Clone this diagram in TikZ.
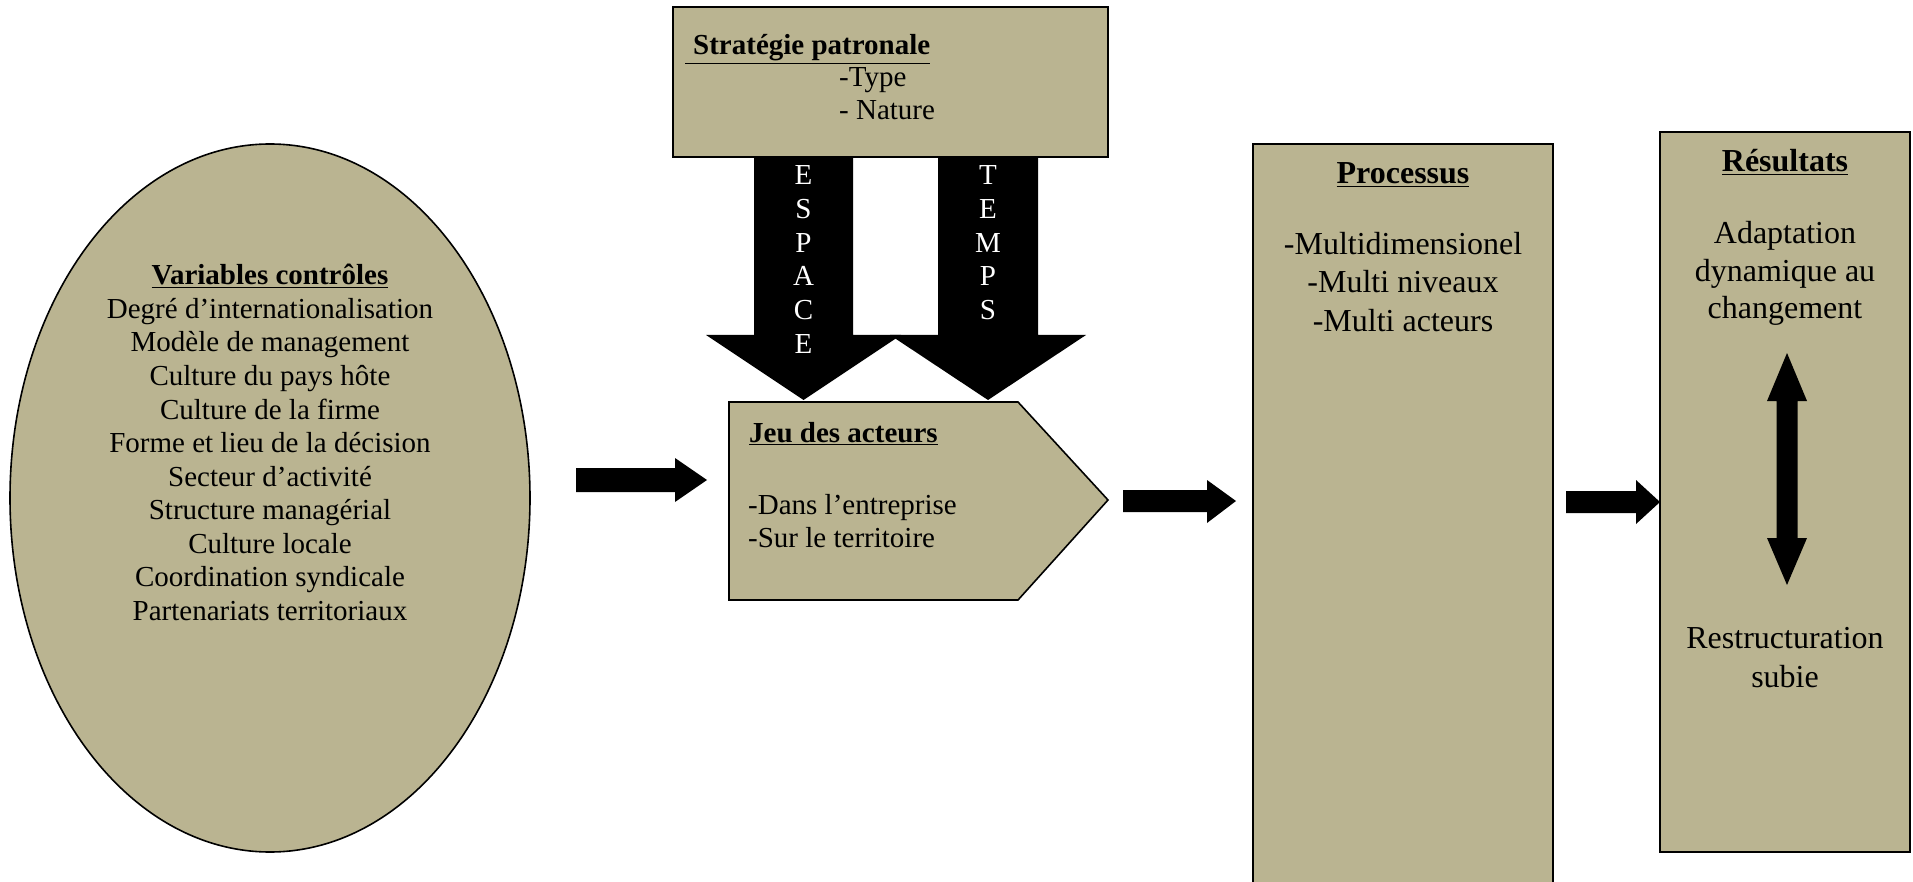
\documentclass[tikz,border=0pt]{standalone}
\usepackage{fontspec}
\setmainfont{Liberation Serif}
\usetikzlibrary{shapes.geometric}
\definecolor{khaki}{RGB}{186,180,145}
\tikzset{
  boxstyle/.style={draw=black, fill=khaki, line width=1.6pt},
  rectbox/.style={boxstyle, rectangle, inner sep=0pt},
  bigarrow/.style={fill=black, draw=none},
  tA/.style={font=\fontsize{29}{34}\selectfont, inner sep=0pt},
  tB/.style={font=\fontsize{32}{38}\selectfont, inner sep=0pt},
  tW/.style={font=\fontsize{29}{34}\selectfont, inner sep=0pt, text=white},
}
\begin{document}
\begin{tikzpicture}[x=1pt, y=-1pt]
\useasboundingbox (0,0) rectangle (1913,882);

% Ellipse: variables controles
\node[boxstyle, ellipse, minimum width=520pt, minimum height=708pt, inner sep=0pt] (vc) at (270,498) {};
\foreach [count=\i] \t in {\textbf{\underline{Variables contrôles}},
  Degré d’internationalisation, Modèle de management, Culture du pays hôte,
  Culture de la firme, Forme et lieu de la décision, Secteur d’activité,
  Structure managérial, Culture locale, Coordination syndicale,
  Partenariats territoriaux}
  \node[tA, anchor=base] (vcl\i) at (270,{285+33.5*(\i-1)}) {\t};

% Strategie patronale
\node[rectbox, minimum width=435pt, minimum height=150pt] (strat) at (890.5,82) {};
\node[tA, anchor=base west] (strat1) at (685,55) {\textbf{\underline{\hspace{8pt}Stratégie patronale}}};
\node[tA, anchor=base west] (strat2) at (839,87) {-Type};
\node[tA, anchor=base west] (strat3) at (839,120) {- Nature};

% ESPACE arrow
\fill[bigarrow] (754,157) -- (853,157) -- (853,335) -- (901,335) -- (803.5,400) -- (706,335) -- (754,335) -- cycle;
% TEMPS arrow
\fill[bigarrow] (938,157) -- (1038,157) -- (1038,335) -- (1086,335) -- (988,400) -- (890,335) -- (938,335) -- cycle;
\foreach [count=\i] \l in {E,S,P,A,C,E}
  \node[tW, anchor=base] (esp\i) at (803.5,{185+33.6*(\i-1)}) {\l};
\foreach [count=\i] \l in {T,E,M,P,S}
  \node[tW, anchor=base] (tem\i) at (988,{185+33.6*(\i-1)}) {\l};

% Jeu des acteurs
\draw[boxstyle] (729,402) -- (1018,402) -- (1108,500) -- (1018,600) -- (729,600) -- cycle;
\coordinate (jeu) at (900,500);
\node[tA, anchor=base west] (jeu1) at (749,442) {\textbf{\underline{Jeu des acteurs}}};
\node[tA, anchor=base west] (jeu2) at (748,514) {-Dans l’entreprise};
\node[tA, anchor=base west] (jeu3) at (748,547) {-Sur le territoire};

% Processus
\node[rectbox, minimum width=300pt, minimum height=760pt] (proc) at (1403,524) {};
\node[tB, anchor=base] (proc1) at (1403,184) {\textbf{\underline{Processus}}};
\node[tB, anchor=base] (proc2) at (1403,255) {-Multidimensionel};
\node[tB, anchor=base] (proc3) at (1403,293) {-Multi niveaux};
\node[tB, anchor=base] (proc4) at (1403,332) {-Multi acteurs};

% Resultats
\node[rectbox, minimum width=250pt, minimum height=720pt] (res) at (1785,492) {};
\node[tB, anchor=base] (res1) at (1785,172) {\textbf{\underline{Résultats}}};
\node[tB, anchor=base] (res2) at (1785,244) {Adaptation};
\node[tB, anchor=base] (res3) at (1785,282) {dynamique au};
\node[tB, anchor=base] (res4) at (1785,319) {changement};
\node[tB, anchor=base] (res5) at (1785,648) {Restructuration};
\node[tB, anchor=base] (res6) at (1785,687) {subie};

% Horizontal arrows
\fill[bigarrow] (576,468) -- (675,468) -- (675,458) -- (707,480) -- (675,502) -- (675,492) -- (576,492) -- cycle;
\fill[bigarrow] (1123,490) -- (1207,490) -- (1207,480) -- (1236,501) -- (1207,523) -- (1207,512) -- (1123,512) -- cycle;
\fill[bigarrow] (1566,491) -- (1636,491) -- (1636,480) -- (1660,502) -- (1636,524) -- (1636,513) -- (1566,513) -- cycle;

% Double arrow in Resultats
\fill[bigarrow] (1787,353) -- (1807,401) -- (1797.5,401) -- (1797.5,538) -- (1807,538) -- (1787,585) -- (1767,538) -- (1776.5,538) -- (1776.5,401) -- (1767,401) -- cycle;
\end{tikzpicture}
\end{document}
